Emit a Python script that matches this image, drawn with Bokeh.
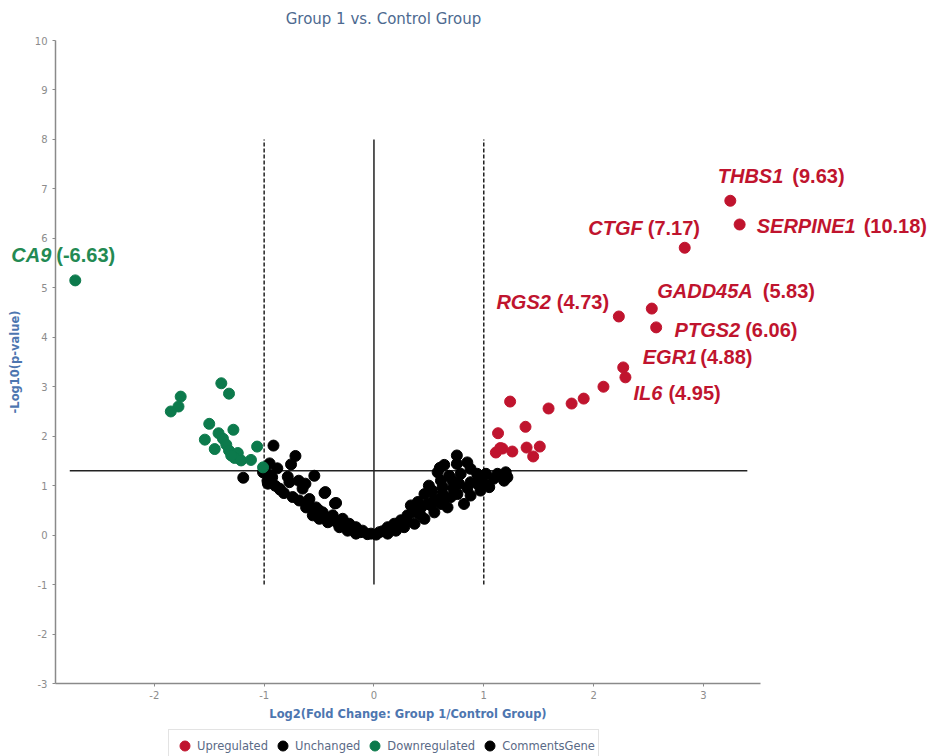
from bokeh.plotting import figure
from bokeh.models import (Range1d, FixedTicker, ColumnDataSource, Legend, LegendItem,
                          LinearAxis, Label)
from bokeh.embed import file_html
from bokeh.resources import INLINE
from bokeh.core.properties import value

# ---------------- data ----------------
TITLE = "Group 1 vs. Control Group"
X_LABEL = "Log2(Fold Change: Group 1/Control Group)"
Y_LABEL = "-Log10(p-value)"
X_TICKS = [-2, -1, 0, 1, 2, 3]
X_TICK_LABELS = ["-2", "-1", "0", "1", "2", "3"]
Y_TICKS = [-3, -2, -1, 0, 1, 2, 3, 4, 5, 6, 7, 8, 9, 10]
Y_TICK_LABELS = ["-3", "-2", "-1", "0", "1", "2", "3", "4", "5", "6", "7", "8", "9", "10"]
X_AXIS = (-2.9, 3.52)        # extent of the drawn x axis
Y_AXIS = (-3, 10)            # extent of the drawn y axis

FC_THRESHOLD = 1.0
P_THRESHOLD = 1.301          # -log10(0.05)
V_LINE_SPAN = (-1.0, 8.0)    # vertical extent of reference lines
H_LINE_SPAN = (-2.77, 3.4)   # horizontal extent of p threshold line

up_x = [3.245, 3.33, 2.83, 2.53, 2.23, 2.57, 2.27, 2.29, 2.09, 1.91, 1.80, 1.59,
        1.24, 1.38, 1.13, 1.11, 1.17, 1.26, 1.39, 1.51, 1.45, 1.15]
up_y = [6.76, 6.28, 5.81, 4.58, 4.42, 4.20, 3.39, 3.19, 3.00, 2.76, 2.66, 2.56,
        2.70, 2.19, 2.06, 1.67, 1.75, 1.69, 1.77, 1.79, 1.59, 1.76]

down_x = [-2.72, -1.39, -1.32, -1.76, -1.78, -1.85, -1.50, -1.28, -1.415, -1.54,
          -1.375, -1.345, -1.45, -1.32, -1.24, -1.27, -1.21, -1.12, -1.064, -1.01, -1.30]
down_y = [5.15, 3.07, 2.86, 2.80, 2.60, 2.50, 2.25, 2.13, 2.06, 1.93,
          1.95, 1.83, 1.74, 1.71, 1.66, 1.56, 1.51, 1.52, 1.79, 1.37, 1.61]

unch_x = [-1.19, -0.915, -0.715, -0.755, -1.01, -0.966, -0.927, -0.97, -0.966, -0.785,
          -0.543, -0.855, -0.86, -0.77, -0.685, -0.624, -0.65, -0.443, -0.45, -0.345,
          -0.355, -0.74, -0.68, -0.588, -0.527, -0.618, -0.467, -0.557, -0.375, -0.497,
          -0.285, -0.42, -0.225, -0.315, -0.164, -0.24, -0.103, -0.164, -0.027,
          -0.82, -0.90, -0.60, -0.50, -0.40, -0.35, -0.30, -0.20, -0.12, -0.06, -0.88, -0.95,
          0.05, 0.125, 0.185, 0.245, 0.305, 0.37, 0.43, 0.49, 0.55, 0.625,
          0.70, 0.76, 0.88, 0.97, 1.05, 1.185, 1.09, 1.215, 1.20, 1.125,
          1.02, 0.94, 0.88, 0.85, 0.755, 0.755, 0.58, 0.61, 0.50, 0.715,
          0.775, 0.67, 0.82, 0.55, 0.46, 0.37, 0.275, 0.20, 0.125, 0.94,
          0.88, 0.79, 0.685, 0.625, 0.53, 0.46, 0.40, 0.336, 0.61, 0.02,
          0.08, 0.16, 0.30, 0.42, 0.52, 0.65, 0.72, 0.85, 0.95, 1.00, 0.60, 0.64]
unch_y = [1.16, 1.81, 1.60, 1.43, 1.27, 1.24, 1.17, 1.10, 1.04, 1.18,
          1.20, 0.92, 0.94, 1.07, 1.10, 1.04, 0.94, 0.87, 0.85, 0.65,
          0.64, 0.77, 0.70, 0.73, 0.56, 0.56, 0.46, 0.40, 0.40, 0.33,
          0.33, 0.26, 0.23, 0.16, 0.16, 0.09, 0.09, 0.03, 0.03,
          0.85, 1.00, 0.62, 0.50, 0.35, 0.28, 0.25, 0.12, 0.06, 0.02, 1.35, 1.45,
          0.06, 0.16, 0.23, 0.30, 0.40, 0.46, 0.56, 0.63, 0.73, 0.83,
          0.77, 0.83, 0.80, 0.90, 0.97, 1.10, 1.14, 1.17, 1.27, 1.24,
          1.24, 1.24, 1.34, 1.47, 1.44, 1.61, 1.27, 1.10, 1.00, 1.10,
          1.04, 0.56, 0.63, 0.46, 0.33, 0.23, 0.16, 0.09, 0.03, 1.04,
          1.07, 1.24, 1.20, 0.97, 0.90, 0.83, 0.67, 0.60, 0.63, 0.01,
          0.08, 0.12, 0.30, 0.42, 0.60, 0.75, 0.95, 0.95, 1.12, 1.05, 1.36, 1.42]

# labelled genes
lab_genes = ["THBS1", "SERPINE1", "CTGF", "GADD45A", "RGS2", "PTGS2", "EGR1", "IL6", "CA9"]
lab_fc = [9.63, 10.18, 7.17, 5.83, 4.73, 6.06, 4.88, 4.95, -6.63]
lab_x = [3.245, 3.33, 2.83, 2.53, 2.23, 2.57, 2.27, 2.29, -2.72]
lab_y = [6.76, 6.28, 5.81, 4.58, 4.42, 4.20, 3.39, 3.19, 5.15]
lab_group = ["up", "up", "up", "up", "up", "up", "up", "up", "down"]

LEGEND_LABELS = ["Upregulated", "Unchanged", "Downregulated", "CommentsGene"]

# ---------------- styles / layout ----------------
W, H = 931, 756
AX_LEFT, AX_RIGHT, AX_TOP, AX_BOTTOM = 55, 760, 40, 683   # pixel box of the axes
RED = "#c0142e"
GREEN = "#0c7a4c"
GREEN_TXT = "#238a53"
BLACK = "#000000"
DOT = 11
# pixel offsets of label (gene-name right edge, value left edge, vertical)
LABEL_OFFSETS = [(53, 62, -25), (116, 124, 2), (-42, -37, -20), (101, 111, -18),
                 (-68, -62, -14), (84, 89, 3), (74, 77, -10), (37, 43, 16), (-24, -19, -25)]

# the frame covers the whole canvas; axes are drawn at fixed locations
ppx = (AX_RIGHT - AX_LEFT) / (X_AXIS[1] - X_AXIS[0])
ppy = (AX_BOTTOM - AX_TOP) / (Y_AXIS[1] - Y_AXIS[0])
x_start = X_AXIS[0] - AX_LEFT / ppx
x_end = X_AXIS[1] + (W - AX_RIGHT) / ppx
y_start = Y_AXIS[0] - (H - AX_BOTTOM) / ppy
y_end = Y_AXIS[1] + AX_TOP / ppy


def px_x(px):
    return x_start + px / ppx


def px_y(py):
    return y_end - py / ppy


p = figure(width=W, height=H, output_backend="svg", toolbar_location=None,
           x_range=Range1d(x_start, x_end), y_range=Range1d(y_start, y_end),
           x_axis_location=None, y_axis_location=None, title_location=None,
           min_border=0, min_border_left=0, min_border_right=0,
           min_border_top=0, min_border_bottom=0)
p.background_fill_color = "white"
p.border_fill_color = "white"
p.outline_line_color = None
p.grid.visible = False

xaxis = LinearAxis(fixed_location=Y_AXIS[0], bounds=X_AXIS,
                   ticker=FixedTicker(ticks=X_TICKS),
                   major_label_overrides=dict(zip(X_TICKS, X_TICK_LABELS)),
                   axis_label=X_LABEL)
yaxis = LinearAxis(fixed_location=X_AXIS[0], bounds=Y_AXIS,
                   ticker=FixedTicker(ticks=Y_TICKS),
                   major_label_overrides=dict(zip(Y_TICKS, Y_TICK_LABELS)),
                   axis_label=Y_LABEL)
for ax in (xaxis, yaxis):
    ax.axis_line_color = "#8a8a8a"
    ax.axis_line_width = 1.5
    ax.major_tick_line_color = "#8a8a8a"
    ax.major_tick_out = 3
    ax.major_tick_in = 0
    ax.minor_tick_line_color = None
    ax.major_label_text_font = "DejaVu Sans"
    ax.major_label_text_font_size = "10px"
    ax.major_label_text_color = "#8c8c8c"
    ax.axis_label_text_font = "DejaVu Sans"
    ax.axis_label_text_font_size = "11.5px"
    ax.axis_label_text_font_style = "bold"
    ax.axis_label_text_color = "#4d76b0"
xaxis.major_label_standoff = 4
xaxis.axis_label_standoff = 5
yaxis.major_label_standoff = 5
yaxis.axis_label_standoff = 10
p.add_layout(xaxis, "below")
p.add_layout(yaxis, "left")

title = Label(x=px_x(383), y=px_y(18), text=TITLE, text_align="center",
              text_baseline="middle", text_font="DejaVu Sans", text_font_size="15px",
              text_color="#4d6a90")
p.add_layout(title)

# reference lines
p.segment(x0=[-FC_THRESHOLD], y0=[V_LINE_SPAN[0]], x1=[-FC_THRESHOLD], y1=[V_LINE_SPAN[1]],
          line_color="#222222", line_width=1.5, line_dash="4 2")
p.segment(x0=[FC_THRESHOLD], y0=[V_LINE_SPAN[0]], x1=[FC_THRESHOLD], y1=[V_LINE_SPAN[1]],
          line_color="#222222", line_width=1.5, line_dash="4 2")
p.segment(x0=[0], y0=[V_LINE_SPAN[0]], x1=[0], y1=[V_LINE_SPAN[1]],
          line_color="#222222", line_width=1.5)
p.segment(x0=[H_LINE_SPAN[0]], y0=[P_THRESHOLD], x1=[H_LINE_SPAN[1]], y1=[P_THRESHOLD],
          line_color="#222222", line_width=1.5)

# points
r_unch = p.scatter(unch_x, unch_y, size=DOT, fill_color=BLACK, line_color=BLACK)
r_down = p.scatter(down_x, down_y, size=DOT, fill_color=GREEN, line_color=GREEN)
r_up = p.scatter(up_x, up_y, size=DOT, fill_color=RED, line_color=RED)

# labels
src = ColumnDataSource(dict(
    x=lab_x, y=lab_y, gene=lab_genes,
    val=["({:.2f})".format(v) for v in lab_fc],
    color=[RED if g == "up" else GREEN_TXT for g in lab_group],
    gx=[o[0] for o in LABEL_OFFSETS], vx=[o[1] for o in LABEL_OFFSETS],
    dy=[o[2] for o in LABEL_OFFSETS],
))
p.text(x="x", y="y", text="gene", x_offset="gx", y_offset="dy", source=src,
       text_align="right", text_baseline="middle", text_color="color",
       text_font=value("Liberation Sans"), text_font_style="bold italic",
       text_font_size="20px")
p.text(x="x", y="y", text="val", x_offset="vx", y_offset="dy", source=src,
       text_align="left", text_baseline="middle", text_color="color",
       text_font=value("Liberation Sans"), text_font_style="bold",
       text_font_size="20px")

legend = Legend(items=[
    LegendItem(label=LEGEND_LABELS[0], renderers=[r_up]),
    LegendItem(label=LEGEND_LABELS[1], renderers=[r_unch]),
    LegendItem(label=LEGEND_LABELS[2], renderers=[r_down]),
    LegendItem(label=LEGEND_LABELS[3], renderers=[r_unch]),
], orientation="horizontal", location=(168, -6))
legend.glyph_width = 25
legend.glyph_height = 25
legend.label_standoff = 0
legend.spacing = 2
legend.padding = 3
legend.margin = 0
legend.label_height = 20
legend.label_text_font = "DejaVu Sans"
legend.label_text_font_size = "11.5px"
legend.label_text_color = "#5a6a86"
legend.border_line_color = "#c8c8c8"
legend.border_line_width = 1
legend.background_fill_alpha = 1
p.add_layout(legend, "center")

open("out.html", "w").write(file_html(p, INLINE))
